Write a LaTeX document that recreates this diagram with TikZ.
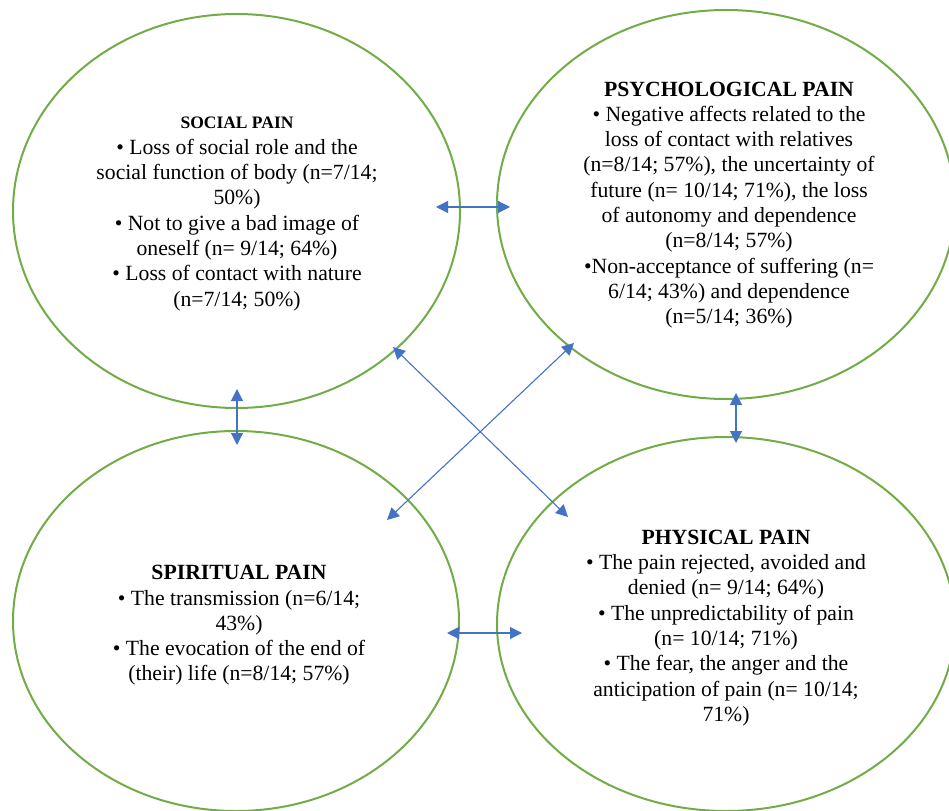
\documentclass[tikz,border=0pt]{standalone}
\usepackage{fontspec}
\setmainfont{Liberation Serif}
\usetikzlibrary{arrows.meta}
\usetikzlibrary{positioning}
\usetikzlibrary{shapes.geometric}

\definecolor{ringgreen}{HTML}{70AD47}
\definecolor{linkblue}{HTML}{4472C4}

\tikzset{
  pain/.style={ellipse, draw=ringgreen, line width=2pt, inner sep=0pt},
  painlist/.style={align=center, font=\fontsize{21.7pt}{25.3pt}\selectfont},
  link/.style={color=linkblue, line width=1.1pt,
    {Triangle[length=12pt,width=12pt]}-{Triangle[length=12pt,width=12pt]}},
}

\begin{document}
\begin{tikzpicture}[x=1pt,y=-1pt]
  \useasboundingbox (0,0) rectangle (949,810);
  \clip (0,0) rectangle (949,810);

  % the four rings
  \node[pain, minimum width=447pt, minimum height=394pt] (social) at (236.5,211) {};
  \node[pain, minimum width=458pt, minimum height=389pt] (psycho) at (726,204.5) {};
  \node[pain, minimum width=446pt, minimum height=380pt] (spirit) at (236,621) {};
  \node[pain, minimum width=458pt, minimum height=374pt] (physic) at (726,624) {};

  % texts
  \node[painlist] (social-txt) at (237,214)
    {{\fontsize{17.5pt}{24pt}\selectfont\bfseries SOCIAL PAIN}\\
     • Loss of social role and the\\
     social function of body (n=7/14;\\
     50\%)\\
     • Not to give a bad image of\\
     oneself (n= 9/14; 64\%)\\
     • Loss of contact with nature\\
     (n=7/14; 50\%)};
  \node[painlist] (psycho-txt) at (729,205)
    {\textbf{PSYCHOLOGICAL PAIN}\\
     • Negative affects related to the\\
     loss of contact with relatives\\
     (n=8/14; 57\%), the uncertainty of\\
     future (n= 10/14; 71\%), the loss\\
     of autonomy and dependence\\
     (n=8/14; 57\%)\\
     •Non-acceptance of suffering (n=\\
     6/14; 43\%) and dependence\\
     (n=5/14; 36\%)};
  \node[painlist] (spirit-txt) at (239,625.5)
    {\textbf{SPIRITUAL PAIN}\\
     • The transmission (n=6/14;\\
     43\%)\\
     • The evocation of the end of\\
     (their) life (n=8/14; 57\%)};
  \node[painlist] (physic-txt) at (726,628)
    {\textbf{PHYSICAL PAIN}\\
     • The pain rejected, avoided and\\
     denied (n= 9/14; 64\%)\\
     • The unpredictability of pain\\
     (n= 10/14; 71\%)\\
     • The fear, the anger and the\\
     anticipation of pain (n= 10/14;\\
     71\%)};

  % arrow ends
  \coordinate (sp-a) at (436,207);
  \coordinate (sp-b) at (510,207);
  \coordinate (ss-a) at (237,389);
  \coordinate (ss-b) at (237,445);
  \coordinate (pp-a) at (736,393);
  \coordinate (pp-b) at (736,443);
  \coordinate (sf-a) at (447,633);
  \coordinate (sf-b) at (522,633);
  \coordinate (xa-a) at (393,347);
  \coordinate (xa-b) at (568,517);
  \coordinate (xb-a) at (574,343);
  \coordinate (xb-b) at (387,520);

  \path[link]
    (sp-a) edge (sp-b)
    (ss-a) edge (ss-b)
    (pp-a) edge (pp-b)
    (sf-a) edge (sf-b)
    (xa-a) edge (xa-b)
    (xb-a) edge (xb-b);
\end{tikzpicture}
\end{document}
